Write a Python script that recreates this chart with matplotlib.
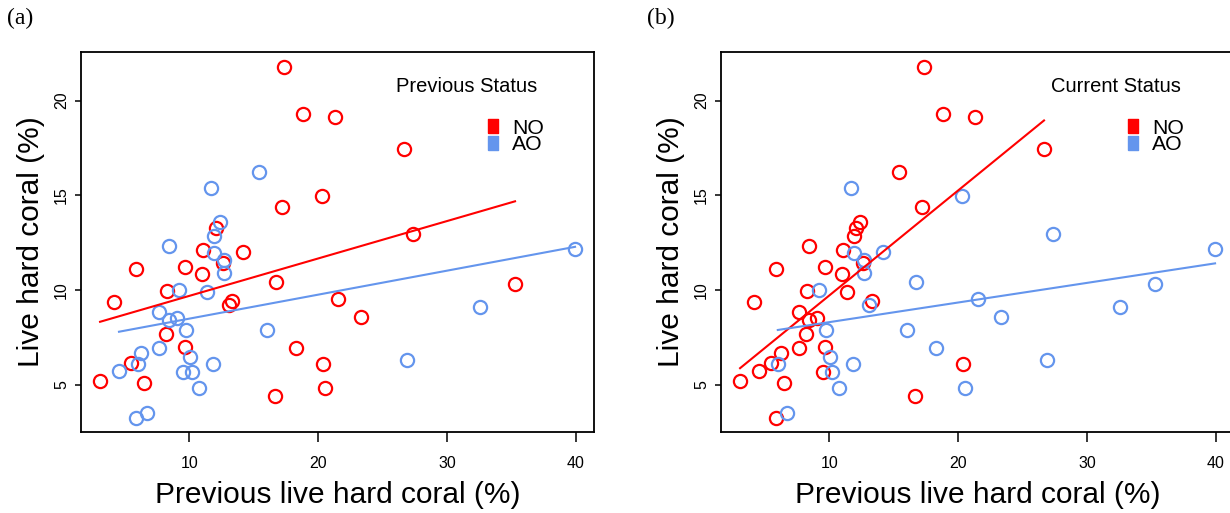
import numpy as np
import matplotlib.pyplot as plt

plt.rcParams['font.family'] = ['Liberation Sans', 'DejaVu Sans']

# previous live hard coral (%), x axis
prev_cover = [17.31, 18.82, 21.30, 26.66, 15.42, 11.65, 17.19, 20.30, 12.03, 12.34,
              11.87, 27.34, 8.44, 11.06, 11.91, 14.18, 5.83, 9.66, 10.96, 12.65,
              12.57, 12.69, 16.70, 8.28, 9.19, 11.39, 4.15, 13.10, 13.33, 7.66,
              8.42, 9.01, 8.18, 9.74, 16.00, 18.30, 9.66, 7.66, 10.05, 6.24,
              5.47, 5.99, 4.53, 3.06, 6.48, 9.48, 10.18, 11.86, 10.75, 16.65,
              5.83, 6.68, 39.94, 35.28, 21.51, 23.32, 32.56, 20.35, 26.92, 20.53]

# live hard coral (%), y axis
live_cover = [21.80, 19.27, 19.15, 17.43, 16.22, 15.37, 14.36, 14.97, 13.25, 13.57,
              12.85, 12.98, 12.32, 12.11, 11.97, 12.03, 11.09, 11.19, 10.85, 11.61,
              11.41, 10.91, 10.40, 9.96, 10.00, 9.88, 9.38, 9.21, 9.43, 8.84,
              8.42, 8.50, 7.68, 7.89, 7.89, 6.92, 6.97, 6.92, 6.44, 6.69,
              6.13, 6.09, 5.74, 5.21, 5.10, 5.65, 5.65, 6.07, 4.81, 4.38,
              3.25, 3.49, 12.19, 10.30, 9.50, 8.59, 9.12, 6.09, 6.30, 4.81]

prev_status = ['NO', 'NO', 'NO', 'NO', 'AO', 'AO', 'NO', 'NO', 'NO', 'AO',
               'AO', 'NO', 'AO', 'NO', 'AO', 'NO', 'NO', 'NO', 'NO', 'AO',
               'NO', 'AO', 'NO', 'NO', 'AO', 'AO', 'NO', 'NO', 'NO', 'AO',
               'AO', 'AO', 'NO', 'AO', 'AO', 'NO', 'NO', 'AO', 'AO', 'AO',
               'NO', 'AO', 'AO', 'NO', 'NO', 'AO', 'AO', 'AO', 'AO', 'NO',
               'AO', 'AO', 'AO', 'NO', 'NO', 'NO', 'AO', 'NO', 'AO', 'NO']

curr_status = ['NO', 'NO', 'NO', 'NO', 'NO', 'AO', 'NO', 'AO', 'NO', 'NO',
               'NO', 'AO', 'NO', 'NO', 'AO', 'AO', 'NO', 'NO', 'NO', 'AO',
               'NO', 'AO', 'AO', 'NO', 'AO', 'NO', 'NO', 'AO', 'NO', 'NO',
               'NO', 'NO', 'NO', 'AO', 'AO', 'AO', 'NO', 'NO', 'AO', 'NO',
               'NO', 'AO', 'NO', 'NO', 'NO', 'NO', 'AO', 'AO', 'AO', 'NO',
               'NO', 'AO', 'AO', 'AO', 'AO', 'AO', 'AO', 'NO', 'AO', 'AO']

groups = ['NO', 'AO']
colors = {'NO': '#ff0000', 'AO': '#6495ed'}

W, H = 1230, 513
fig = plt.figure(figsize=(W / 100, H / 100), dpi=100)

x = np.array(prev_cover)
y = np.array(live_cover)

# rectangle used for the legend keys (R pch=15 looks a bit tall here)
key_marker = [(-5, -7), (5, -7), (5, 7), (-5, 7), (-5, -7)]


def panel(left_px, status, title, title_x, letter):
    ax = fig.add_axes([left_px / W, 81 / H, 513 / W, 380 / H])
    st = np.array(status)
    for g in groups:
        m = st == g
        ax.plot(x[m], y[m], 'o', mfc='none', mec=colors[g], ms=9.5, mew=1.6,
                ls='none', zorder=2)
    for g in groups:
        m = st == g
        slope, icpt = np.polyfit(x[m], y[m], 1)
        xx = np.array([x[m].min(), x[m].max()])
        ax.plot(xx, icpt + slope * xx, color=colors[g], lw=1.5, zorder=3)

    ax.set_xlim(1.58, 41.41)
    ax.set_ylim(2.50, 22.57)
    ax.set_xticks([10, 20, 30, 40])
    ax.set_yticks([5, 10, 15, 20])
    for s in ax.spines.values():
        s.set_linewidth(1.3)
    ax.tick_params(axis='x', length=7.5, width=1.1, labelsize=11.5, pad=10)
    ax.tick_params(axis='y', length=4.5, width=1.1, labelsize=11.5, pad=4,
                   labelrotation=90)
    for lab in ax.get_yticklabels():
        lab.set_va('center')

    ax.text(0.5, -0.166, 'Previous live hard coral (%)', transform=ax.transAxes,
            ha='center', va='center', fontsize=21.5)
    ax.text(-0.0965, 0.5, 'Live hard coral (%)', transform=ax.transAxes,
            ha='center', va='center', rotation=90, fontsize=21.5)

    # legend drawn by hand, R style
    ax.text(title_x, 0.894, title, transform=ax.transAxes, ha='center',
            va='baseline', fontsize=14.5)
    key_y = [0.8053, 0.7613]
    lab_y = [0.7853, 0.7413]
    for g, ky, ly in zip(groups, key_y, lab_y):
        ax.plot([0.8037], [ky], marker=key_marker, ms=10, color=colors[g],
                ls='none', transform=ax.transAxes, clip_on=False)
        ax.text(0.8405, ly, g, transform=ax.transAxes, ha='left',
                va='baseline', fontsize=15.3)

    fig.text((left_px - 60.5) / W, 1 - 18 / H, letter, ha='center',
             va='center', fontsize=17, family='Liberation Serif')
    return ax


panel(81, prev_status, 'Previous Status', 0.7524, '(a)')
panel(721, curr_status, 'Current Status', 0.769, '(b)')

plt.savefig('out.png', dpi=100)
